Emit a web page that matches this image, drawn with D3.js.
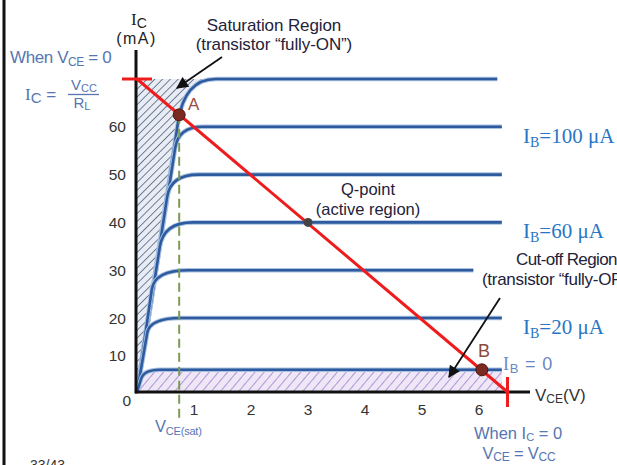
<!DOCTYPE html>
<html><head><meta charset="utf-8">
<script src="https://cdn.jsdelivr.net/npm/d3@7"></script>
<style>body{margin:0;background:#fff}svg{display:block}</style>
</head><body><svg id="c" width="617" height="465"></svg>
<script>
// ---- data ----
const xTicks = [1, 2, 3, 4, 5, 6];
const yTicks = [10, 20, 30, 40, 50, 60];
const curveLevels = [70, 60, 50, 40, 30, 20, 6];      // Ic plateau (mA)
const bendV = [0.72, 0.67, 0.53, 0.40, 0.26, 0.18, 0.07]; // start of knee (V)
const bendI = [61, 55.6, 45.4, 34.9, 26, 16, 3.5];      // start of knee (mA)
const flatV = [1.38, 1.15, 1.08, 0.98, 0.9, 0.78, 0.4]; // plateau start (V)
const endV = [6.32, 6.4, 6.4, 6.4, 5.9, 6.4, 6.4];       // plateau end (V)
const ibLabels = ["100", "60", "20"];
const ibLabelLevels = [60, 40, 20];
const vcc = 6.5, icMax = 70, vceSat = 0.74;
const pointA = {v: 0.74, i: 62.5}, pointQ = {v: 3.0, i: 40}, pointB = {v: 6.05, i: 6};

// ---- scales ----
const svg = d3.select("#c");
const x = d3.scaleLinear().domain([0, 6]).range([137, 479]);
const y = d3.scaleLinear().domain([0, 20, 70]).range([392, 318, 79]);

// ---- patterns ----
const defs = svg.append("defs");
function hatch(id, bg, fg, size, angle) {
  const p = defs.append("pattern").attr("id", id).attr("patternUnits", "userSpaceOnUse")
    .attr("width", size).attr("height", size).attr("patternTransform", `rotate(${angle})`);
  p.append("rect").attr("width", size).attr("height", size).attr("fill", bg);
  p.append("line").attr("x1", 0).attr("y1", 0).attr("x2", 0).attr("y2", size)
    .attr("stroke", fg).attr("stroke-width", 1.2);
}
hatch("sat", "#e8edf5", "#23334f", 5.5, 45);
hatch("cut", "#eee8f6", "#8a5cc8", 7, 40);
defs.append("marker").attr("id", "arr").attr("viewBox", "0 0 10 10").attr("refX", 9).attr("refY", 5)
  .attr("markerWidth", 14).attr("markerHeight", 12).attr("markerUnits", "userSpaceOnUse")
  .attr("orient", "auto").append("path").attr("d", "M0,0L10,5L0,10Z").attr("fill", "#111");

// left border
svg.append("line").attr("x1", 4).attr("x2", 4).attr("y1", 0).attr("y2", 465)
  .attr("stroke", "#111").attr("stroke-width", 3);

// curve path builder
function kneePath(k, closeToAxis) {
  const x0 = x(0), y0 = y(0);
  const bx = x(bendV[k]), by = y(bendI[k]), ly = y(curveLevels[k]);
  const cx = x0 + (bx - x0) * (y0 - ly) / (y0 - by);
  const p = d3.path();
  p.moveTo(x0, y0); p.lineTo(bx, by);
  p.quadraticCurveTo(cx, ly, x(flatV[k]), ly);
  if (closeToAxis) { p.lineTo(x0, ly); p.closePath(); }
  else p.lineTo(x(endV[k]), ly);
  return p.toString();
}

// saturation region
svg.append("path").attr("d", kneePath(0, true)).attr("fill", "url(#sat)");

// cut-off region
svg.append("rect").attr("x", x(0)).attr("y", y(curveLevels[6]))
  .attr("width", x(endV[6]) - x(0)).attr("height", y(0) - y(curveLevels[6]))
  .attr("fill", "url(#cut)");

// curves
curveLevels.forEach((lv, k) => {
  const d = kneePath(k, false);
  svg.append("path").attr("d", d).attr("fill", "none").attr("stroke", "#a9c1e2").attr("stroke-width", 4.5);
  svg.append("path").attr("d", d).attr("fill", "none").attr("stroke", "#2d5b9e").attr("stroke-width", 2.6);
});

// green dashed Vce(sat)
svg.append("line").attr("x1", x(vceSat)).attr("x2", x(vceSat)).attr("y1", y(pointA.i)).attr("y2", 418)
  .attr("stroke", "#7d9a55").attr("stroke-width", 2).attr("stroke-dasharray", "9,5");

// axes
svg.append("line").attr("x1", x(0) - 1).attr("x2", x(0) - 1).attr("y1", 50).attr("y2", y(0) + 1.5)
  .attr("stroke", "#111").attr("stroke-width", 3);
svg.append("line").attr("x1", x(0) - 2).attr("x2", 530).attr("y1", y(0)).attr("y2", y(0))
  .attr("stroke", "#111").attr("stroke-width", 3);

// load line
svg.append("line").attr("x1", x(0)).attr("y1", y(icMax)).attr("x2", x(vcc)).attr("y2", y(0))
  .attr("stroke", "#ee1c1c").attr("stroke-width", 3);
svg.append("line").attr("x1", x(0) - 15).attr("x2", x(0) + 15).attr("y1", y(icMax)).attr("y2", y(icMax))
  .attr("stroke", "#ee1c1c").attr("stroke-width", 3);
svg.append("line").attr("x1", x(vcc)).attr("x2", x(vcc)).attr("y1", y(0) - 15).attr("y2", y(0) + 15)
  .attr("stroke", "#ee1c1c").attr("stroke-width", 3);

// points
[pointA, pointB].forEach(p => svg.append("circle").attr("cx", x(p.v)).attr("cy", y(p.i)).attr("r", 6)
  .attr("fill", "#7b2a22").attr("stroke", "#4a1510").attr("stroke-width", 1));
svg.append("circle").attr("cx", x(pointQ.v)).attr("cy", y(pointQ.i)).attr("r", 4.5).attr("fill", "#444");

// arrows
svg.append("line").attr("x1", 222).attr("y1", 57).attr("x2", 177).attr("y2", 88)
  .attr("stroke", "#111").attr("stroke-width", 1.8).attr("marker-end", "url(#arr)");
svg.append("line").attr("x1", 500).attr("y1", 298).attr("x2", 449).attr("y2", 377)
  .attr("stroke", "#111").attr("stroke-width", 1.8).attr("marker-end", "url(#arr)");

// text helper
const SANS = "'Liberation Sans', Arial, sans-serif", SERIF = "'Liberation Serif', 'Times New Roman', serif";
function rich(xx, yy, parts, o) {
  const t = svg.append("text").attr("x", xx).attr("y", yy)
    .attr("font-family", o.f || SANS).attr("font-size", o.s).attr("fill", o.c)
    .attr("text-anchor", o.a || "start");
  if (o.ls) t.attr("letter-spacing", o.ls);
  let shift = 0;
  parts.forEach(p => {
    const ts = t.append("tspan").text(p.t);
    const want = p.sub ? (p.dy || 3) : 0;
    if (want !== shift) { ts.attr("dy", want - shift); shift = want; }
    if (p.sub) ts.attr("font-size", p.ss || o.s * 0.72);
    if (p.f) ts.attr("font-family", p.f);
  });
  return t;
}

// tick labels
yTicks.forEach(v => rich(126, y(v) + 5.5, [{t: String(v)}], {s: 15.5, c: "#333", a: "end"}));
rich(131, 405.5, [{t: "0"}], {s: 15.5, c: "#333", a: "end"});
xTicks.forEach(v => rich(x(v), 415, [{t: String(v)}], {s: 15.5, c: "#333", a: "middle"}));

// axis titles
rich(139, 25, [{t: "I", f: SERIF}, {t: "C", sub: true, dy: 0, ss: 14}], {s: 17, c: "#222", a: "middle"});
rich(136.5, 44, [{t: "(mA)"}], {s: 16, c: "#222", a: "middle", ls: 1.5});
rich(535, 401, [{t: "V"}, {t: "CE", sub: true, dy: 2, ss: 12}, {t: "(V)"}], {s: 17, c: "#333"});

// left annotations
rich(10, 63, [{t: "When V"}, {t: "CE", sub: true, dy: 3, ss: 12}, {t: " = 0"}], {s: 17, c: "#5676b2", ls: -0.4});
rich(25, 100, [{t: "I", f: SERIF}, {t: "C", sub: true, dy: 0, ss: 15}, {t: " ="}], {s: 17, c: "#5676b2"});
rich(84, 90, [{t: "V"}, {t: "CC", sub: true, dy: 2, ss: 11}], {s: 15, c: "#5676b2", a: "middle"});
svg.append("line").attr("x1", 68).attr("x2", 99).attr("y1", 94.5).attr("y2", 94.5).attr("stroke", "#5676b2").attr("stroke-width", 1.3);
rich(82, 108, [{t: "R"}, {t: "L", sub: true, dy: 2, ss: 11}], {s: 15, c: "#5676b2", a: "middle"});

// region annotations
rich(274, 31, [{t: "Saturation Region"}], {s: 17, c: "#22223a", a: "middle", ls: -0.1});
rich(274, 50, [{t: "(transistor \u201cfully-ON\u201d)"}], {s: 17, c: "#22223a", a: "middle", ls: -0.1});
rich(368, 195, [{t: "Q-point"}], {s: 16.5, c: "#22223a", a: "middle"});
rich(368, 215, [{t: "(active region)"}], {s: 16.5, c: "#22223a", a: "middle"});
rich(516, 265, [{t: "Cut-off Region"}], {s: 17, c: "#22223a", ls: -0.6});
rich(482, 285, [{t: "(transistor \u201cfully-OFF\u201d)"}], {s: 17, c: "#22223a", ls: -0.3});
rich(188, 110, [{t: "A"}], {s: 17, c: "#a04a40"});
rich(478, 357, [{t: "B"}], {s: 18, c: "#8a4a3a"});

// Ib labels
ibLabels.forEach((s, k) => rich(523, y(ibLabelLevels[k]) + 16, [{t: "I"}, {t: "B", sub: true, dy: 4, ss: 14}, {t: "=" + s + " \u03bcA"}],
  {s: 21, c: "#2a76c6", f: SERIF}));
rich(503, 370, [{t: "I", f: SERIF}, {t: "B", sub: true, dy: 3, ss: 13}, {t: " = 0"}], {s: 18, c: "#6a88c0", ls: 0.8});

// bottom annotations
rich(155, 432, [{t: "V"}, {t: "CE(sat)", sub: true, dy: 3, ss: 11}], {s: 16.5, c: "#5676b2", ls: -0.2});
rich(518, 439, [{t: "When I"}, {t: "C", sub: true, dy: 2, ss: 11}, {t: " = 0"}], {s: 16.5, c: "#5676b2", a: "middle", ls: 0});
rich(519, 459, [{t: "V"}, {t: "CE", sub: true, dy: 2, ss: 12}, {t: " = V"}, {t: "CC", sub: true, dy: 2, ss: 12}], {s: 16.5, c: "#5676b2", a: "middle", ls: -0.2});
rich(30, 470, [{t: "33/43"}], {s: 14, c: "#333"});
</script></body></html>
